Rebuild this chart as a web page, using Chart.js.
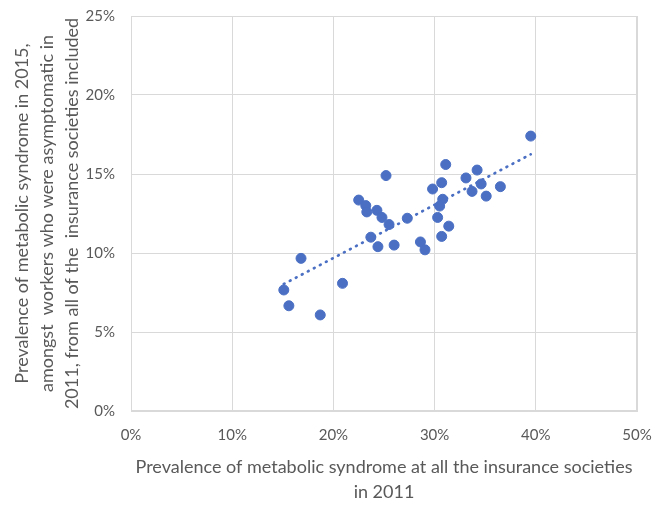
<!DOCTYPE html>
<html>
<head>
<meta charset="utf-8">
<script src="https://cdn.jsdelivr.net/npm/chart.js@4"></script>
<style>
  html, body { margin: 0; padding: 0; background: #fff; }
  #wrap { width: 652px; height: 506px; }
</style>
</head>
<body>
<div id="wrap"><canvas id="chart" width="652" height="506"></canvas></div>
<script>
// prevalence 2011 (x, %) and prevalence 2015 among asymptomatic workers (y, %)
const prev2011 = [39.5, 31.1, 25.2, 34.2, 33.1, 30.7, 34.6, 36.5, 29.8, 33.7, 35.1, 30.8, 22.5, 23.2, 23.3, 24.3, 30.5,
                  24.8, 27.3, 30.3, 25.5, 31.4, 23.7, 30.7, 24.4, 26.0, 28.6, 29.05, 16.8, 20.9, 15.1, 15.6, 18.7];
const prev2015 = [17.4, 15.6, 14.9, 15.25, 14.75, 14.45, 14.37, 14.2, 14.05, 13.9, 13.6, 13.4, 13.35, 13.0, 12.6, 12.7, 12.97,
                  12.25, 12.2, 12.25, 11.8, 11.7, 11.0, 11.05, 10.4, 10.5, 10.7, 10.2, 9.66, 8.08, 7.66, 6.66, 6.08];
const xTicks = [0, 10, 20, 30, 40, 50];
const yTicks = [0, 5, 10, 15, 20, 25];

const points = prev2011.map((x, i) => ({ x: x, y: prev2015[i] }));

// linear trendline (least squares) across the data range
const n = points.length;
const mx = prev2011.reduce((a, b) => a + b, 0) / n;
const my = prev2015.reduce((a, b) => a + b, 0) / n;
let sxy = 0, sxx = 0;
points.forEach(p => { sxy += (p.x - mx) * (p.y - my); sxx += (p.x - mx) * (p.x - mx); });
const slope = sxy / sxx;
const icpt = my - slope * mx;
const xMin = Math.min(...prev2011), xMax = Math.max(...prev2011);
const trend = [{ x: xMin, y: icpt + slope * xMin }, { x: xMax, y: icpt + slope * xMax }];

const font = "Lato, 'Open Sans', sans-serif";
const grey = '#595959';
const blue = '#4A6FC3';

new Chart(document.getElementById('chart'), {
  type: 'scatter',
  data: {
    datasets: [
      {
        data: points,
        backgroundColor: blue,
        borderColor: blue,
        pointRadius: 5,
        pointHoverRadius: 5,
        order: 1
      },
      {
        type: 'line',
        data: trend,
        borderColor: blue,
        borderWidth: 2.7,
        borderDash: [0.8, 6],
        borderCapStyle: 'round',
        pointRadius: 0,
        fill: false,
        order: 2
      }
    ]
  },
  options: {
    responsive: false,
    animation: false,
    layout: { padding: { left: 0, right: 15, top: 16, bottom: 0 } },
    plugins: { legend: { display: false }, tooltip: { enabled: false } },
    scales: {
      x: {
        type: 'linear',
        min: 0,
        max: 50,
        afterBuildTicks: s => { s.ticks = xTicks.map(v => ({ value: v })); },
        afterFit: s => { s.height = 95; s.paddingLeft = 0; s.paddingRight = 0; },
        grid: { color: '#d9d9d9', drawTicks: false },
        border: { color: '#d9d9d9' },
        ticks: {
          padding: 15,
          color: grey,
          font: { family: font, size: 15 },
          callback: v => v + '%'
        },
        title: {
          display: true,
          text: ['Prevalence of metabolic syndrome at all the insurance societies', 'in 2011'],
          color: grey,
          font: { family: font, size: 18, lineHeight: 1.39 },
          padding: { top: 0, bottom: 1.5 }
        }
      },
      y: {
        type: 'linear',
        min: 0,
        max: 25,
        afterBuildTicks: s => { s.ticks = yTicks.map(v => ({ value: v })); },
        afterFit: s => { s.width = 131; s.paddingTop = 0; s.paddingBottom = 0; },
        grid: { color: '#d9d9d9', drawTicks: false },
        border: { color: '#d9d9d9' },
        ticks: {
          padding: 16,
          color: grey,
          font: { family: font, size: 15 },
          callback: v => v + '%'
        },
        title: {
          display: true,
          text: ['Prevalence of metabolic syndrome in 2015,', 'amongst  workers who were asymptomatic in',
                 '2011, from all of the  insurance societies included'],
          color: grey,
          font: { family: font, size: 18, lineHeight: 1.39 },
          padding: { top: 9.5, bottom: 0 }
        }
      }
    }
  },
  plugins: [{
    id: 'frame',
    afterDraw(chart) {
      const a = chart.chartArea, c = chart.ctx;
      c.save();
      c.strokeStyle = '#d9d9d9';
      c.lineWidth = 1;
      c.strokeRect(a.left + 0.5, a.top + 0.5, a.right - a.left - 1, a.bottom - a.top - 1);
      c.restore();
    }
  }]
});
</script>
</body>
</html>
